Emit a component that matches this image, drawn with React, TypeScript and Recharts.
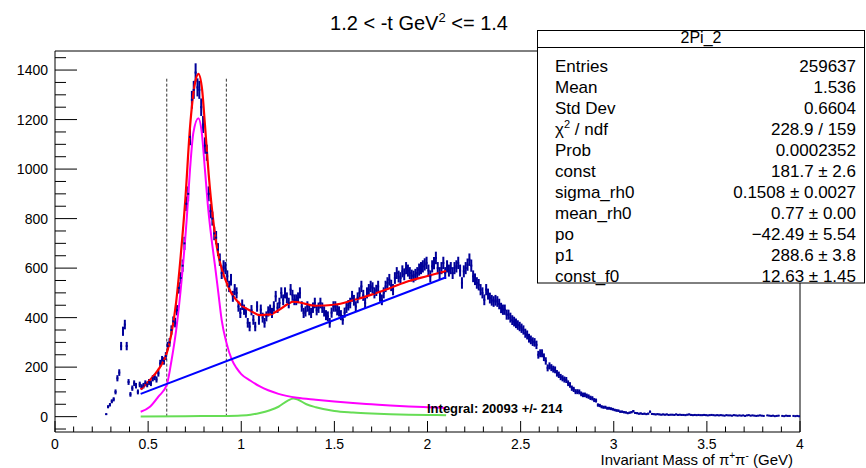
import React from 'react';
import {
  ComposedChart, Line, Scatter, ErrorBar, XAxis, YAxis, ReferenceLine, ReferenceArea
} from 'recharts';

// histogram: 0.01 GeV bins starting at 0.27 GeV
const BIN_START = 0.27;
const BIN_WIDTH = 0.01;

const counts = [
  10, 40, 48, 62, 70, 100, 155, 178, 285, 345,
  372, 285, 140, 90, 115, 135, 125, 100, 130, 120,
  125, 135, 130, 140, 135, 155, 160, 150, 175, 215,
  230, 225, 245, 285, 300, 350, 385, 380, 430, 520,
  560, 610, 700, 860, 900, 1130, 1280, 1320, 1390, 1330,
  1320, 1250, 1180, 1095, 1066, 900, 830, 800, 740, 723,
  675, 634, 580, 607, 600, 567, 526, 553, 486, 513,
  500, 445, 419, 452, 432, 420, 379, 364, 430, 391,
  364, 445, 391, 432, 400, 379, 405, 425, 432, 419,
  445, 486, 440, 459, 500, 472, 500, 480, 459, 513,
  490, 472, 472, 480, 500, 445, 419, 425, 445, 430,
  419, 440, 459, 430, 440, 459, 440, 425, 410, 405,
  379, 420, 445, 445, 430, 425, 410, 391, 420, 440,
  450, 459, 486, 470, 445, 480, 500, 526, 490, 459,
  500, 513, 526, 520, 500, 510, 526, 486, 472, 500,
  526, 540, 553, 530, 513, 560, 580, 566, 560, 587,
  575, 600, 590, 580, 570, 566, 573, 580, 594, 600,
  607, 615, 621, 590, 567, 607, 620, 641, 600, 580,
  600, 621, 580, 607, 590, 600, 580, 600, 607, 621,
  590, 540, 587, 600, 614, 634, 610, 567, 555, 540,
  533, 513, 500, 472, 513, 495, 479, 470, 465, 470,
  465, 455, 439, 432, 432, 412, 412, 400, 390, 384,
  377, 370, 364, 357, 350, 337, 330, 317, 310, 303,
  300, 290, 250, 256, 256, 240, 225, 197, 205, 198,
  192, 189, 175, 169, 160, 155, 150, 148, 135, 128,
  115, 110, 101, 101, 100, 92, 88, 88, 84, 81,
  76, 74, 67, 65, 47, 45, 40, 38, 38, 34,
  34, 32, 30, 27, 25, 24, 20, 20, 18, 17,
  14, 16, 18, 22, 15, 14, 12, 13, 11, 12,
  10, 12, 20, 11, 10, 9, 10, 9, 8, 9,
  8, 9, 7, 8, 8, 7, 9, 7, 8, 7,
  7, 6, 8, 9, 7, 6, 7, 6, 7, 6,
  6, 7, 6, 5, 6, 7, 6, 5, 6, 5,
  6, 5, 4, 6, 5, 5, 4, 6, 5, 4,
  5, 4, 5, 3, 5, 6, 4, 5, 4, 3,
  4, 5, 4, 3, 0, 5, 4, 3, 4, 2,
  3, 4, 0, 3, 2, 4, 3, 3, 0, 3,
  2, 3, 2,
];

// fit curves
const totalX = [0.46, 0.5, 0.55, 0.6, 0.625, 0.65, 0.675, 0.7, 0.725, 0.75, 0.77, 0.79, 0.805, 0.825, 0.85, 0.875, 0.9, 0.925, 0.95, 0.975, 1.0, 1.05, 1.1, 1.15, 1.2, 1.25, 1.28, 1.32, 1.4, 1.5, 1.6, 1.7, 1.8, 1.9, 2.0, 2.1];
const totalY = [110, 140, 185, 256, 335, 460, 650, 880, 1170, 1340, 1385, 1320, 1180, 980, 790, 660, 585, 535, 495, 470, 450, 428, 410, 412, 430, 455, 465, 460, 448, 452, 470, 493, 520, 548, 568, 588];

const rhoX = [0.46, 0.51, 0.555, 0.6, 0.626, 0.653, 0.68, 0.707, 0.725, 0.743, 0.77, 0.788, 0.805, 0.823, 0.841, 0.859, 0.877, 0.895, 0.92, 0.95, 0.975, 1.0, 1.05, 1.1, 1.2, 1.3, 1.4, 1.5, 1.6, 1.7, 1.8, 1.9, 2.0, 2.1];
const rhoY = [20, 40, 81, 128, 229, 364, 553, 796, 1000, 1147, 1205, 1147, 998, 836, 715, 610, 500, 390, 300, 229, 196, 172, 145, 122, 92, 76, 68, 61, 55, 50, 45, 41, 38, 35];

const f0X = [0.46, 0.7, 0.9, 1.0, 1.05, 1.1, 1.15, 1.2, 1.25, 1.28, 1.3, 1.35, 1.4, 1.5, 1.6, 1.7, 1.8, 1.9, 2.0, 2.1];
const f0Y = [1, 2, 3, 5, 8, 15, 25, 40, 65, 73, 70, 50, 38, 23, 17, 13, 10, 8, 7, 6];

const bkgX = [0.46, 2.1];
const bkgY = [92, 563];

const xTicks = [0, 0.5, 1, 1.5, 2, 2.5, 3, 3.5, 4];
const xTickLabels = ['0', '0.5', '1', '1.5', '2', '2.5', '3', '3.5', '4'];
const yTicks = [0, 200, 400, 600, 800, 1000, 1200, 1400];

const sideLines = [0.6, 0.92];

const statRows = [
  ['Entries', '259637'],
  ['Mean', '1.536'],
  ['Std Dev', '0.6604'],
  ['chi2', '228.9 / 159'],
  ['Prob', '0.0002352'],
  ['const', '181.7 \u00b1 2.6'],
  ['sigma_rh0', '0.1508 \u00b1 0.0027'],
  ['mean_rh0', '0.77 \u00b1 0.00'],
  ['po', '\u221242.49 \u00b1 5.54'],
  ['p1', '288.6 \u00b1 3.8'],
  ['const_f0', '12.63 \u00b1 1.45'],
];

const Y_MIN = -62;
const Y_MAX = 1477;
const FONT = '"Liberation Sans", Arial, Helvetica, sans-serif';
const HIST_COLOR = '#000099';

const histData = counts
  .map((n, i) => ({ x: +(BIN_START + BIN_WIDTH * (i + 0.5)).toFixed(3), y: n, err: Math.sqrt(n) }))
  .filter(d => d.y > 0);

const toPoints = (xs: number[], ys: number[]) => xs.map((x, i) => ({ x, y: ys[i] }));

const allXTicks: number[] = [];
for (let i = 0; i <= 40; i++) allXTicks.push(+(i * 0.1).toFixed(1));
const allYTicks: number[] = [];
for (let v = -50; v <= 1450; v += 50) allYTicks.push(v);

const XTick = (props: any) => {
  const { x, y, payload } = props;
  const idx = xTicks.findIndex(t => Math.abs(t - payload.value) < 1e-6);
  const major = idx >= 0;
  return (
    <g>
      <line x1={x} x2={x} y1={y} y2={y - (major ? 11 : 5.5)} stroke="#000" />
      {major && (
        <text x={x} y={y + 17} textAnchor="middle" fontSize={14} fontFamily={FONT} fill="#000">
          {xTickLabels[idx]}
        </text>
      )}
    </g>
  );
};

const YTick = (props: any) => {
  const { x, y, payload } = props;
  const major = yTicks.includes(payload.value);
  return (
    <g>
      <line x1={x} x2={x + (major ? 22 : 11)} y1={y} y2={y} stroke="#000" />
      {major && (
        <text x={x - 7} y={y + 5} textAnchor="end" fontSize={14} fontFamily={FONT} fill="#000">
          {payload.value}
        </text>
      )}
    </g>
  );
};

const BinMark = (props: any) => {
  const { cx, cy } = props;
  return <line x1={cx - 1} x2={cx + 1} y1={cy} y2={cy} stroke={HIST_COLOR} strokeWidth={2} />;
};

export default function App() {
  return (
    <div style={{ position: 'absolute', left: 0, top: 0, width: 866, height: 468, background: '#fff' }}>
      <ComposedChart width={866} height={468} margin={{ top: 51, right: 66, bottom: 0, left: 0 }}>
        <XAxis
          dataKey="x" type="number" domain={[0, 4]} allowDataOverflow
          ticks={allXTicks} interval={0} tick={<XTick />} tickSize={0} tickMargin={0}
          axisLine={false} tickLine={false} height={36}
        />
        <YAxis
          type="number" domain={[Y_MIN, Y_MAX]} allowDataOverflow
          ticks={allYTicks} interval={0} tick={<YTick />} tickSize={0} tickMargin={0}
          axisLine={false} tickLine={false} width={55}
        />
        <ReferenceArea x1={0} x2={4} y1={Y_MIN} y2={Y_MAX} fill="none" stroke="#000" strokeWidth={1} ifOverflow="visible" />
        {sideLines.map(m => (
          <ReferenceLine key={m} segment={[{ x: m, y: 0 }, { x: m, y: 1365 }]} stroke="#333" strokeDasharray="3 2" />
        ))}
        <Scatter data={histData} dataKey="y" shape={<BinMark />} isAnimationActive={false}>
          <ErrorBar dataKey="err" direction="y" width={0} stroke={HIST_COLOR} strokeWidth={2} isAnimationActive={false} />
        </Scatter>
        <Line data={toPoints(f0X, f0Y)} dataKey="y" type="monotone" stroke="#66dd55" strokeWidth={2} dot={false} isAnimationActive={false} />
        <Line data={toPoints(rhoX, rhoY)} dataKey="y" type="monotone" stroke="#ff00ff" strokeWidth={2} dot={false} isAnimationActive={false} />
        <Line data={toPoints(bkgX, bkgY)} dataKey="y" type="linear" stroke="#0000ff" strokeWidth={2} dot={false} isAnimationActive={false} />
        <Line data={toPoints(totalX, totalY)} dataKey="y" type="monotone" stroke="#ff0000" strokeWidth={2.2} dot={false} isAnimationActive={false} />
      </ComposedChart>
      <svg width={866} height={468} style={{ position: 'absolute', left: 0, top: 0, pointerEvents: 'none' }} fontFamily={FONT}>
        <text x={419} y={30} textAnchor="middle" fontSize={20} fill="#000">
          1.2 &lt; -t GeV<tspan dy={-8} fontSize={13}>2</tspan><tspan dy={8}> &lt;= 1.4</tspan>
        </text>
        <text x={793} y={465} textAnchor="end" fontSize={15} fill="#000">
          Invariant Mass of {'\u03c0'}<tspan dy={-6} fontSize={10}>+</tspan><tspan dy={6}>{'\u03c0'}</tspan>
          <tspan dy={-6} fontSize={10}>-</tspan><tspan dy={6}> (GeV)</tspan>
        </text>
        <text x={427} y={413} fontSize={13} fontWeight="bold" fill="#000">Integral: 20093 +/- 214</text>
        <rect x={537.5} y={30.5} width={327} height={252.5} fill="#fff" stroke="#000" />
        <line x1={537.5} x2={865} y1={47.5} y2={47.5} stroke="#000" />
        <text x={701} y={43} textAnchor="middle" fontSize={16} fill="#000">2Pi_2</text>
        {statRows.map(([k, v], i) => (
          <g key={k}>
            <text x={555} y={72 + 21 * i} fontSize={17} fill="#000">
              {k === 'chi2' ? (
                <>{'\u03c7'}<tspan dy={-7} fontSize={11}>2</tspan><tspan dy={7}> / ndf</tspan></>
              ) : k}
            </text>
            <text x={856} y={72 + 21 * i} textAnchor="end" fontSize={17} fill="#000">{v}</text>
          </g>
        ))}
      </svg>
    </div>
  );
}
